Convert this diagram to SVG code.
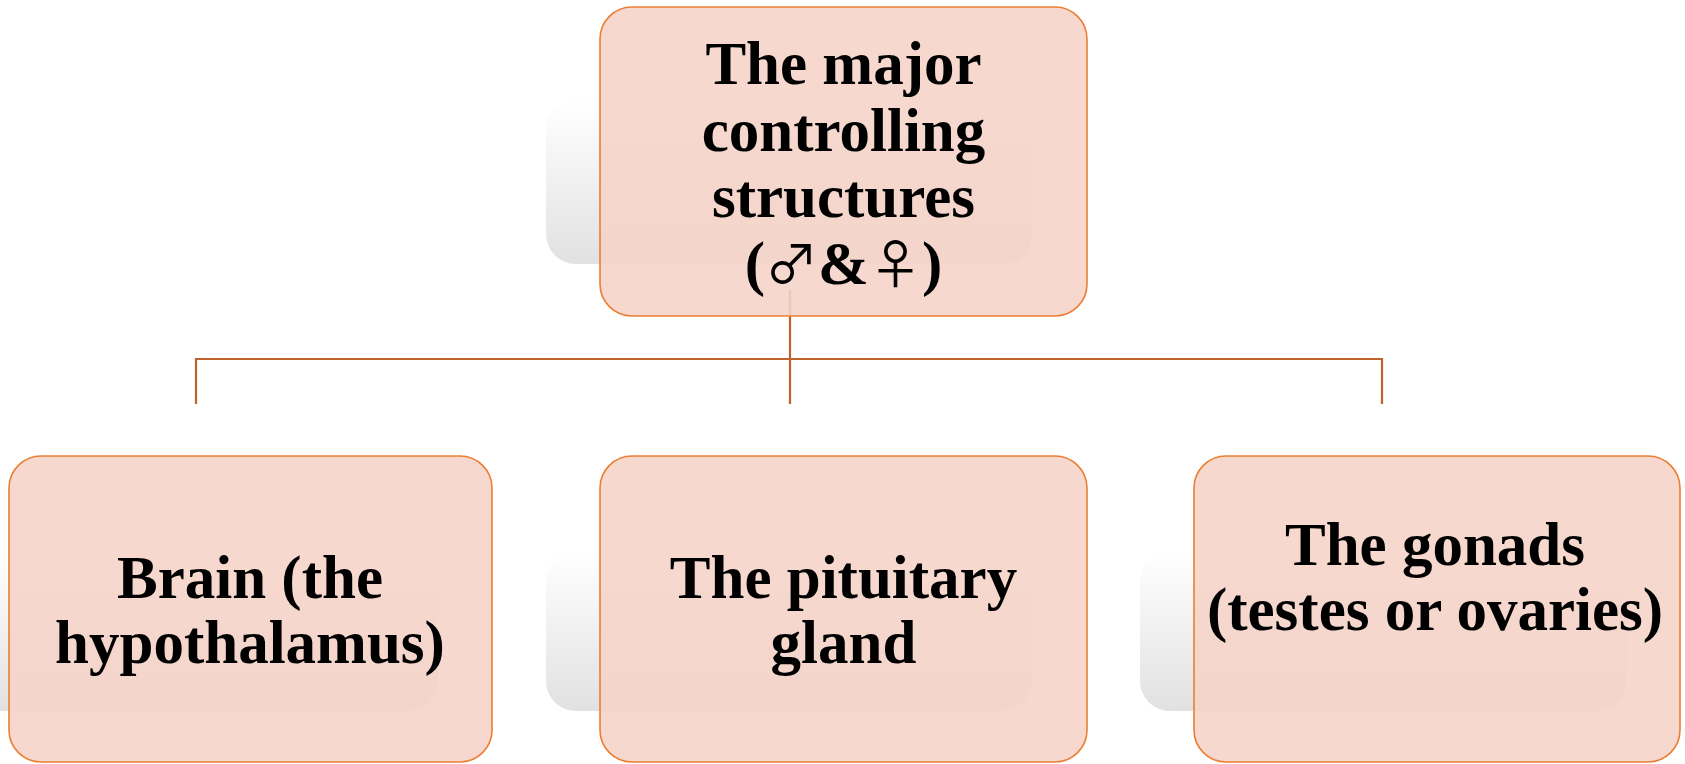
<svg xmlns="http://www.w3.org/2000/svg" width="1685" height="764" viewBox="0 0 1685 764">
<defs>
<linearGradient id="shade" x1="0" y1="0" x2="0" y2="1">
<stop offset="0" stop-color="#ffffff"/>
<stop offset="1" stop-color="#e1e1e1"/>
</linearGradient>
<style>
.shadow{fill:url(#shade)}
.box{fill:#f5d3c7;fill-opacity:0.88;stroke:#ed7d31;stroke-width:1.6}
.lbl{font-family:"Liberation Serif","Times New Roman",serif;font-weight:bold;font-size:61px;fill:#000;text-anchor:middle}
.sym{font-family:"Noto Sans CJK JP",sans-serif;font-weight:normal;font-size:53px}
.conn{fill:none;stroke:#c0622c;stroke-width:2.2}
</style>
</defs>
<rect width="1685" height="764" fill="#fff"/>
<g id="shadows">
<rect class="shadow" x="546" y="100" width="486" height="164" rx="30"/>
<rect class="shadow" x="-40" y="552" width="478" height="159" rx="30"/>
<rect class="shadow" x="546" y="552" width="486" height="159" rx="30"/>
<rect class="shadow" x="1140" y="552" width="486" height="159" rx="30"/>
</g>
<g id="connectors">
<path class="conn" d="M790 290 V404 M196 404 V359 H1382 V404"/>
</g>
<g id="node-top">
<rect class="box" x="600" y="7" width="487" height="309" rx="32"/>
<text class="lbl" x="843.5" y="84">The major</text>
<text class="lbl" x="843.5" y="151">controlling</text>
<text class="lbl" x="843.5" y="217">structures</text>
<text class="lbl" x="843.5" y="284">(<tspan class="sym">♂</tspan>&amp;<tspan class="sym">♀</tspan>)</text>
</g>
<g id="node-brain">
<rect class="box" x="9" y="456" width="483" height="306" rx="32"/>
<text class="lbl" x="250" y="598">Brain (the</text>
<text class="lbl" x="250" y="663">hypothalamus)</text>
</g>
<g id="node-pituitary">
<rect class="box" x="600" y="456" width="487" height="306" rx="32"/>
<text class="lbl" x="843.5" y="598">The pituitary</text>
<text class="lbl" x="843.5" y="663">gland</text>
</g>
<g id="node-gonads">
<rect class="box" x="1194" y="456" width="486" height="306" rx="32"/>
<text class="lbl" x="1435" y="565">The gonads</text>
<text class="lbl" x="1435" y="630">(testes or ovaries)</text>
</g>
</svg>
